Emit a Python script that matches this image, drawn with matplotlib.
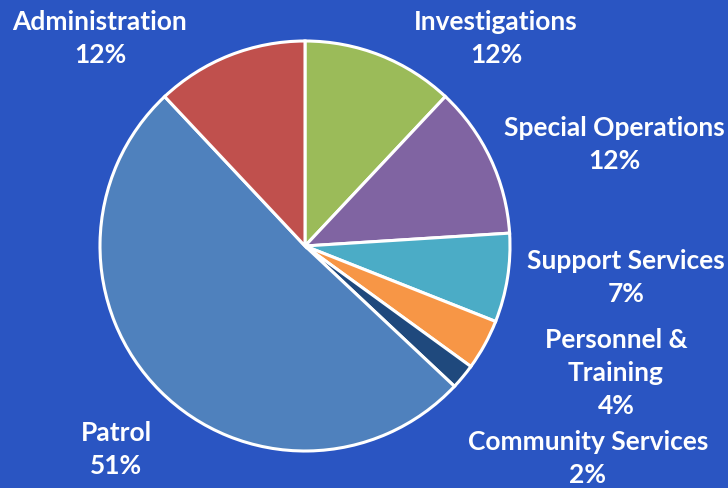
import matplotlib
matplotlib.use("Agg")
import matplotlib.pyplot as plt

# budget share by division
divisions = ["Investigations", "Special Operations", "Support Services",
             "Personnel &\nTraining", "Community Services", "Patrol", "Administration"]
shares = [12, 12, 7, 4, 2, 51, 12]
colors = ["#9BBB59", "#8064A2", "#4BACC6", "#F79646", "#1F497D", "#4F81BD", "#C0504D"]

# label anchor points (pie units, centre at 0,0 radius 1)
label_xy = [(0.932, 1.015), (1.507, 0.500), (1.566, -0.149),
            (1.517, -0.615), (1.380, -1.034), (-0.922, -0.990), (-1.000, 1.015)]

BG = "#2A55C2"

fig = plt.figure(figsize=(7.28, 4.89), dpi=100, facecolor=BG)
ax = fig.add_axes([0, 0, 1, 1])
ax.set_facecolor(BG)

ax.pie(shares, colors=colors, startangle=90, counterclock=False, radius=1.0,
       wedgeprops=dict(edgecolor="white", linewidth=2.2))

for name, val, (x, y) in zip(divisions, shares, label_xy):
    ax.text(x, y, f"{name}\n{val}%", ha="center", va="center", color="white",
            fontsize=19, fontweight="bold", family="Lato", linespacing=1.45)

# centre of pie sits at (305, 247) px with a 205 px radius
ax.set_xlim(-305 / 205, 423 / 205)
ax.set_ylim(-242 / 205, 247 / 205)
ax.set_aspect("auto")
ax.axis("off")

fig.savefig("out.png", facecolor=BG)
